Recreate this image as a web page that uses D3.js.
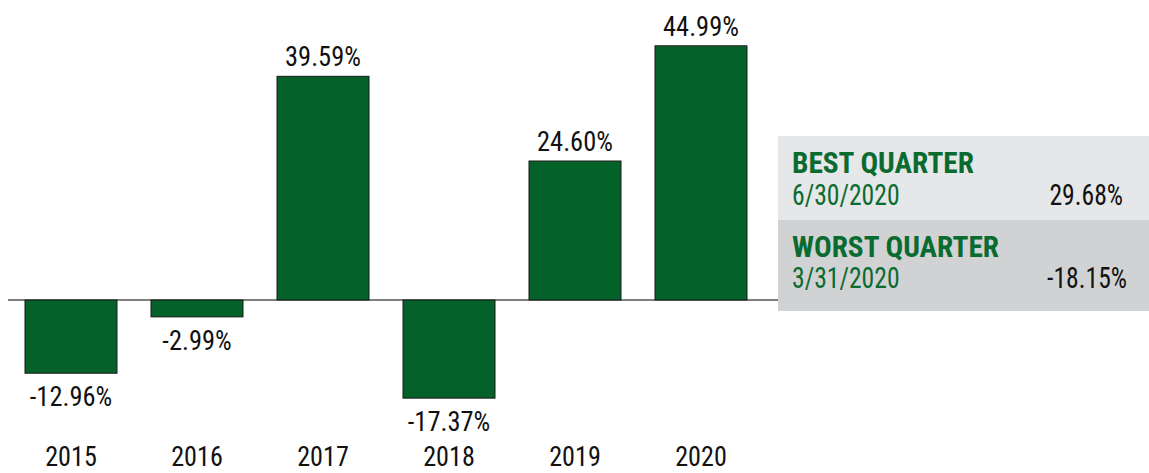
<!DOCTYPE html>
<html><head><meta charset="utf-8">
<script src="https://cdn.jsdelivr.net/npm/d3@7"></script>
<style>body{margin:0;background:#fff}svg{display:block}</style>
</head><body>
<svg id="c" width="1149" height="473"></svg>
<script>
const years = ["2015","2016","2017","2018","2019","2020"];
const returns = [-12.96, -2.99, 39.59, -17.37, 24.60, 44.99];
const bestLabel = "BEST QUARTER", bestDate = "6/30/2020", bestValue = "29.68%";
const worstLabel = "WORST QUARTER", worstDate = "3/31/2020", worstValue = "-18.15%";

const FONT = "'Liberation Sans Narrow','Roboto Condensed','Arial Narrow',Roboto,sans-serif";
const svg = d3.select("#c");
const x = d3.scaleBand().domain(years).range([25-17, 747+17]).paddingInner(34/126).paddingOuter(17/126);
const y = d3.scaleLinear().domain([-20, 50]).range([300 + 20*5.65, 300 - 50*5.65]);

// quarter panel
const px = 778;
svg.append("rect").attr("x", px).attr("y", 136).attr("width", 1149-px).attr("height", 84).attr("fill", "#e6e7e8");
svg.append("rect").attr("x", px).attr("y", 220).attr("width", 1149-px).attr("height", 91).attr("fill", "#d1d2d4");

// zero line
svg.append("line").attr("x1", 8).attr("x2", px).attr("y1", y(0)).attr("y2", y(0))
  .attr("stroke", "#555").attr("stroke-width", 1.6);

svg.selectAll("rect.bar").data(years).join("rect").attr("class","bar")
  .attr("x", d => x(d)).attr("width", x.bandwidth())
  .attr("y", (d,i) => y(Math.max(0, returns[i])))
  .attr("height", (d,i) => Math.abs(y(returns[i]) - y(0)))
  .attr("fill", "#05612a").attr("stroke", "#1a1a1a").attr("stroke-width", 1);

function txt(tx, ty, sx, s, size, opts = {}) {
  const t = svg.append("text")
    .attr("transform", `translate(${tx},${ty}) scale(${sx},1)`)
    .attr("font-family", FONT).attr("font-size", size)
    .attr("fill", opts.fill || "#111")
    .attr("text-anchor", opts.anchor || "start")
    .text(s);
  if (opts.bold) t.attr("font-weight", "bold");
  return t;
}

years.forEach((d, i) => {
  const cx = x(d) + x.bandwidth()/2;
  const v = returns[i];
  const ty = v >= 0 ? y(v) - 10 : y(v) + 33;
  txt(cx, ty, 0.95, v.toFixed(2) + "%", 27.8, {anchor: "middle"});
  txt(cx, 466, 0.95, d, 27.5, {anchor: "middle"});
});

const green = "#0a6b30";
function block(y0, label, date, val, rx){
  txt(792, y0, 1, label, 29.3, {bold: true, fill: green});
  txt(792, y0 + 31.5, 0.89, date, 28.8, {fill: green});
  txt(rx, y0 + 31.5, 0.89, val, 28.8, {anchor: "end"});
}
block(173, bestLabel, bestDate, bestValue, 1123);
block(256.5, worstLabel, worstDate, worstValue, 1127);
</script>
</body></html>
